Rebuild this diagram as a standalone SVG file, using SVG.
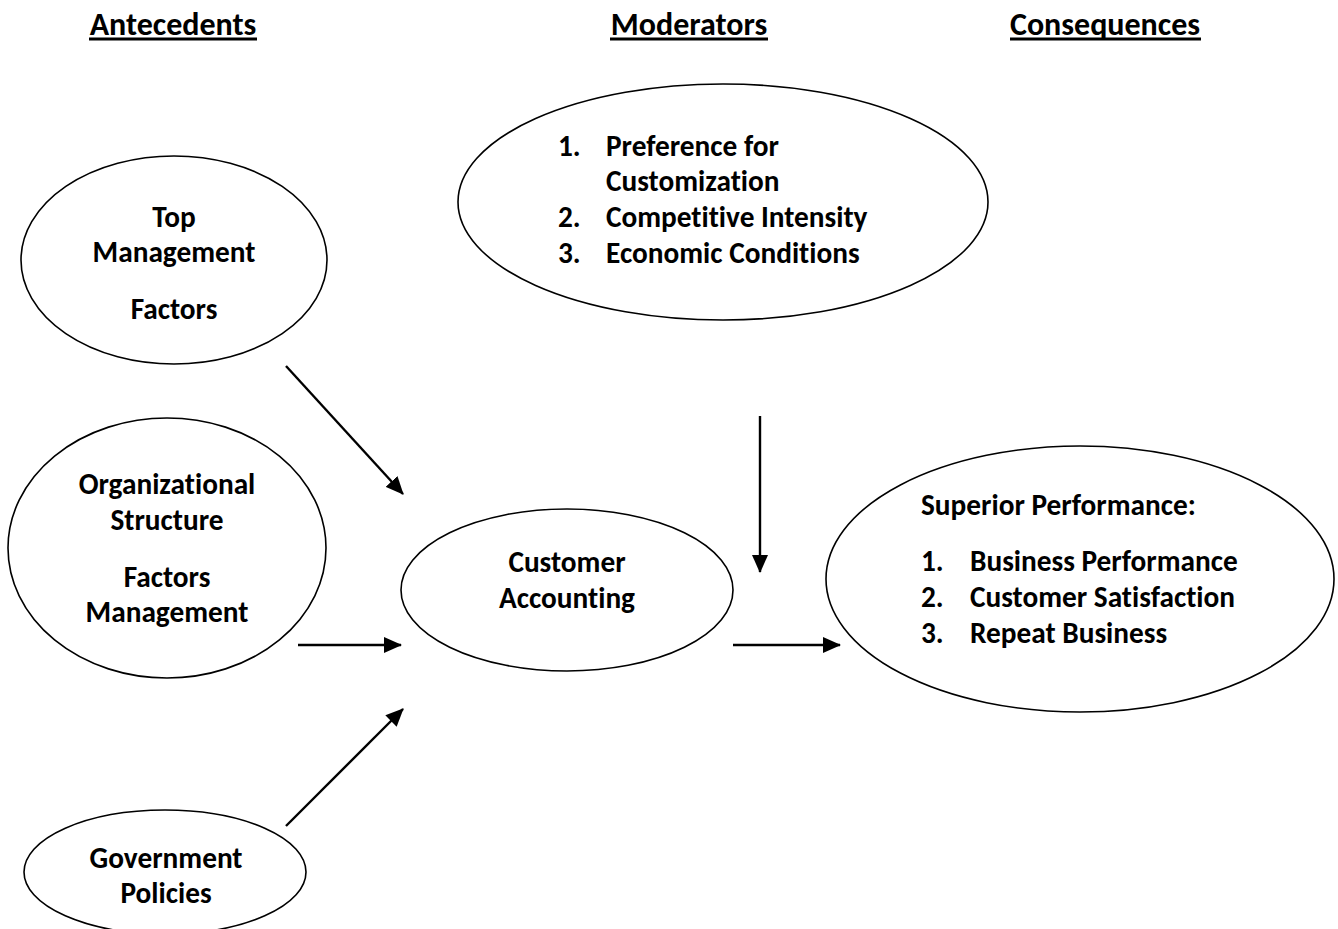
<svg xmlns="http://www.w3.org/2000/svg" width="1338" height="929" viewBox="0 0 1338 929">
  <style>
    text { font-family: Carlito, "Open Sans", "Liberation Sans", sans-serif; font-weight: bold; font-size: 29.3px; fill: #000; font-variant-ligatures: none; }
    .c { text-anchor: middle; }
    .h { font-size: 32px; }
    .node ellipse { fill: #fff; stroke: #000; stroke-width: 1.6; }
    .rule { stroke: #000; stroke-width: 2.8; }
    #connectors line { stroke: #000; stroke-width: 2.4; marker-end: url(#arrow); }
  </style>
  <defs>
    <marker id="arrow" markerUnits="userSpaceOnUse" markerWidth="18" markerHeight="16" refX="17" refY="8" orient="auto">
      <path d="M0,0 L18,8 L0,16 z" fill="#000"/>
    </marker>
  </defs>
  <rect width="1338" height="929" fill="#fff"/>

  <!-- column headings with underlines -->
  <g id="headings">
    <text class="c h" x="173" y="35">Antecedents</text>
    <line class="rule" x1="89" y1="39" x2="257" y2="39"/>
    <text class="c h" x="689" y="35">Moderators</text>
    <line class="rule" x1="610" y1="39" x2="768" y2="39"/>
    <text class="c h" x="1105" y="35">Consequences</text>
    <line class="rule" x1="1010" y1="39" x2="1201" y2="39"/>
  </g>

  <g id="top-management" class="node">
    <ellipse cx="174" cy="260" rx="153" ry="104"/>
    <text class="c" x="174" y="227">Top</text>
    <text class="c" x="174" y="262">Management</text>
    <text class="c" x="174" y="319">Factors</text>
  </g>

  <g id="organizational-structure" class="node">
    <ellipse cx="167" cy="548" rx="159" ry="130"/>
    <text class="c" x="167" y="494">Organizational</text>
    <text class="c" x="167" y="530">Structure</text>
    <text class="c" x="167" y="587">Factors</text>
    <text class="c" x="167" y="622">Management</text>
  </g>

  <g id="government-policies" class="node">
    <ellipse cx="165" cy="872" rx="141" ry="62"/>
    <text class="c" x="166" y="868">Government</text>
    <text class="c" x="166" y="903">Policies</text>
  </g>

  <g id="moderators" class="node">
    <ellipse cx="723" cy="202" rx="265" ry="118"/>
    <text x="558" y="156">1.</text>
    <text x="606" y="156">Preference for</text>
    <text x="606" y="191">Customization</text>
    <text x="558" y="227">2.</text>
    <text x="606" y="227">Competitive Intensity</text>
    <text x="558" y="263">3.</text>
    <text x="606" y="263">Economic Conditions</text>
  </g>

  <g id="customer-accounting" class="node">
    <ellipse cx="567" cy="590" rx="166" ry="81"/>
    <text class="c" x="567" y="572">Customer</text>
    <text class="c" x="567" y="608">Accounting</text>
  </g>

  <g id="superior-performance" class="node">
    <ellipse cx="1080" cy="579" rx="254" ry="133"/>
    <text x="921" y="515">Superior Performance:</text>
    <text x="921" y="571">1.</text>
    <text x="970" y="571">Business Performance</text>
    <text x="921" y="607">2.</text>
    <text x="970" y="607">Customer Satisfaction</text>
    <text x="921" y="643">3.</text>
    <text x="970" y="643">Repeat Business</text>
  </g>

  <g id="connectors">
    <line x1="286" y1="366" x2="403" y2="494"/>
    <line x1="298" y1="645" x2="401" y2="645"/>
    <line x1="286" y1="826" x2="403" y2="709"/>
    <line x1="760" y1="416" x2="760" y2="572"/>
    <line x1="733" y1="645" x2="840" y2="645"/>
  </g>
</svg>
